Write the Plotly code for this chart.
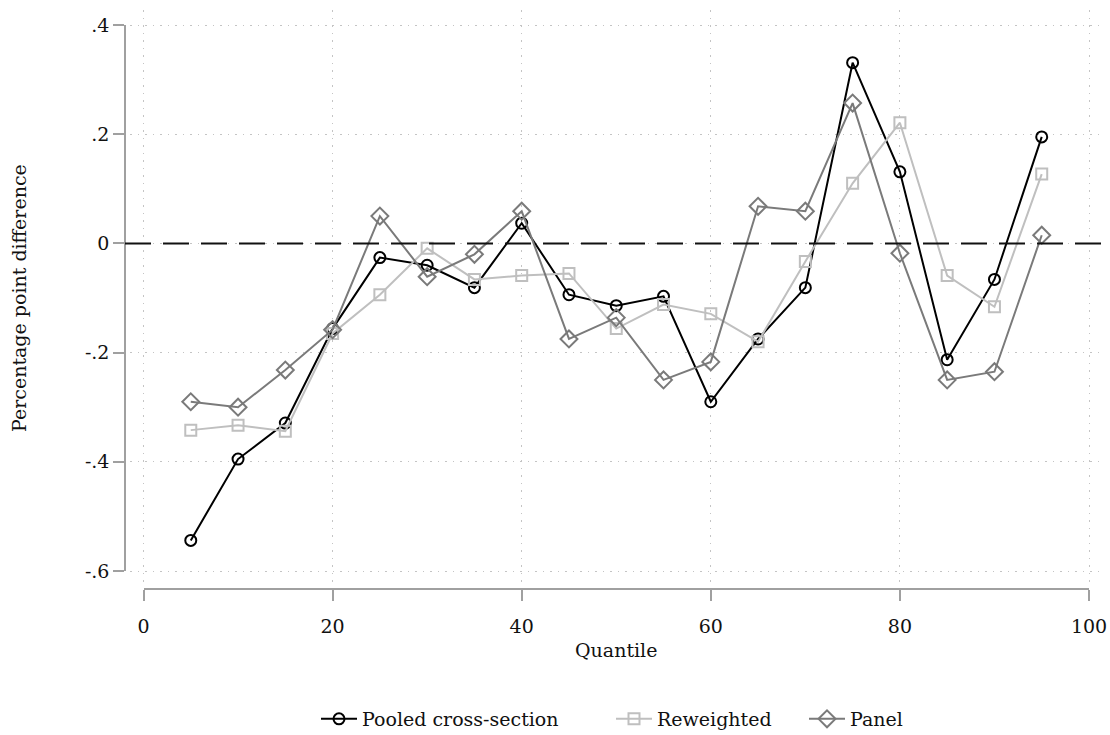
import plotly.graph_objects as go

# ---------------- data ----------------
quantiles = [5, 10, 15, 20, 25, 30, 35, 40, 45, 50, 55, 60, 65, 70, 75, 80, 85, 90, 95]
pooled = [-0.544, -0.395, -0.329, -0.156, -0.026, -0.040, -0.081, 0.037, -0.094, -0.114,
          -0.097, -0.290, -0.175, -0.081, 0.331, 0.131, -0.213, -0.066, 0.195]
reweighted = [-0.342, -0.333, -0.344, -0.165, -0.094, -0.009, -0.066, -0.059, -0.055, -0.156,
              -0.112, -0.129, -0.180, -0.033, 0.110, 0.221, -0.059, -0.116, 0.127]
panel = [-0.290, -0.300, -0.232, -0.158, 0.050, -0.061, -0.020, 0.059, -0.175, -0.136,
         -0.250, -0.217, 0.068, 0.059, 0.257, -0.018, -0.250, -0.235, 0.015]
series_names = ["Pooled cross-section", "Reweighted", "Panel"]
x_ticks = [0, 20, 40, 60, 80, 100]
y_ticks = [-0.6, -0.4, -0.2, 0, 0.2, 0.4]
y_ticklabels = ["-.6", "-.4", "-.2", "0", ".2", ".4"]

# ---------------- layout geometry (screen pixels) ----------------
W, H = 1110, 735
def fx(px):
    return px / W
def fy(py):
    return 1 - py / H

X0_PX, X100_PX = 143.5, 1089     # pixel of x=0 and x=100
YTOP_PX, YBOT_PX = 25, 571       # pixel of y=.4 and y=-.6
GL, GR, GT, GB = 130, 1102, 10, 583   # grid region
XAX_PX = 589                     # x axis line
YAX_PX = 125                     # y axis line

xmin, xmax = x_ticks[0], x_ticks[-1]
ymin, ymax = y_ticks[0], y_ticks[-1]
xs = (X100_PX - X0_PX) / (xmax - xmin)
ys = (YBOT_PX - YTOP_PX) / (ymax - ymin)
gx_range = [xmin - (X0_PX - GL) / xs, xmax + (GR - X100_PX) / xs]
gy_range = [ymin - (GB - YBOT_PX) / ys, ymax + (YTOP_PX - GT) / ys]

FONT = "DejaVu Serif"
FS = 19
TXT = "#111111"
AXCOL = "#a0a0a0"
GRIDCOL = "#c4c4c4"
GRIDDASH = "1.5px,6px"

colors = ["#000000", "#bfbfbf", "#7a7a7a"]
symbols = ["circle-open", "square-open", "diamond-open"]
sizes = [11, 11, 13]
values = [pooled, reweighted, panel]
legend_ids = ["legend", "legend2", "legend3"]
legend_text_px = [362, 657, 850]   # where each legend text starts

fig = go.Figure()
for name, vals, col, sym, sz, lid in zip(series_names, values, colors, symbols, sizes, legend_ids):
    fig.add_trace(go.Scatter(
        x=quantiles, y=vals, name=name, mode="lines+markers",
        line=dict(color=col, width=2),
        marker=dict(symbol=sym, size=sz, color=col, line=dict(color=col, width=2)),
        xaxis="x", yaxis="y", legend=lid,
    ))

# helper (invisible) trace that activates the offset display axes
fig.add_trace(go.Scatter(x=[xmin, xmax], y=[ymin, ymax], xaxis="x2", yaxis="y2",
                         mode="none", showlegend=False, hoverinfo="skip"))

fig.add_shape(type="line", xref="paper", yref="y",
              x0=fx(YAX_PX), x1=fx(1105), y0=0, y1=0,
              line=dict(color="#111111", width=2, dash="26px,12px"))

legends = {}
for lid, tx in zip(legend_ids, legend_text_px):
    legends[lid] = dict(orientation="h", x=fx(tx - 46), xanchor="left", y=fy(719), yanchor="middle",
                        font=dict(family=FONT, size=FS, color=TXT), bgcolor="rgba(0,0,0,0)",
                        itemwidth=36, borderwidth=0)

fig.update_layout(
    width=W, height=H,
    margin=dict(l=0, r=0, t=0, b=0, autoexpand=False),
    paper_bgcolor="white", plot_bgcolor="rgba(0,0,0,0)",
    font=dict(family=FONT, size=FS, color=TXT),
    showlegend=True,
    **legends,
    xaxis=dict(domain=[fx(GL), fx(GR)], range=gx_range, tickvals=x_ticks, showticklabels=False,
               ticks="", showgrid=True, gridcolor=GRIDCOL, griddash=GRIDDASH, gridwidth=1,
               zeroline=False, showline=False, anchor="y", automargin=False),
    yaxis=dict(domain=[fy(GB), fy(GT)], range=gy_range, tickvals=y_ticks, showticklabels=False,
               ticks="", showgrid=True, gridcolor=GRIDCOL, griddash=GRIDDASH, gridwidth=1,
               zeroline=False, showline=False, anchor="x", automargin=False),
    xaxis2=dict(domain=[fx(X0_PX), fx(X100_PX)], range=[xmin, xmax], anchor="free",
                position=fy(XAX_PX), showline=True, linecolor=AXCOL, linewidth=1.5,
                ticks="outside", ticklen=11, tickwidth=1.5, tickcolor=AXCOL,
                tickvals=x_ticks, showgrid=False, zeroline=False, ticklabelstandoff=9,
                automargin=False,
                tickfont=dict(family=FONT, size=FS, color=TXT)),
    yaxis2=dict(domain=[fy(YBOT_PX), fy(YTOP_PX)], range=[ymin, ymax], anchor="free",
                position=fx(YAX_PX), showline=True, linecolor=AXCOL, linewidth=1.5,
                ticks="outside", ticklen=11, tickwidth=1.5, tickcolor=AXCOL,
                tickvals=y_ticks, ticktext=y_ticklabels, showgrid=False, zeroline=False,
                ticklabelstandoff=0, automargin=False,
                tickfont=dict(family=FONT, size=FS, color=TXT)),
    annotations=[
        dict(text="Quantile", xref="paper", yref="paper",
             x=fx((X0_PX + X100_PX) / 2), y=fy(650),
             showarrow=False, xanchor="center", yanchor="middle",
             font=dict(family=FONT, size=FS, color=TXT)),
        dict(text="Percentage point difference", xref="paper", yref="paper",
             x=fx(19), y=fy((YTOP_PX + YBOT_PX) / 2),
             showarrow=False, textangle=-90, xanchor="center", yanchor="middle",
             font=dict(family=FONT, size=FS, color=TXT)),
    ],
)

# remove the default page margin so the figure fills the window exactly
fig.write_html("out.html", config={"displayModeBar": False},
               post_script="document.body.style.margin='0px';")
